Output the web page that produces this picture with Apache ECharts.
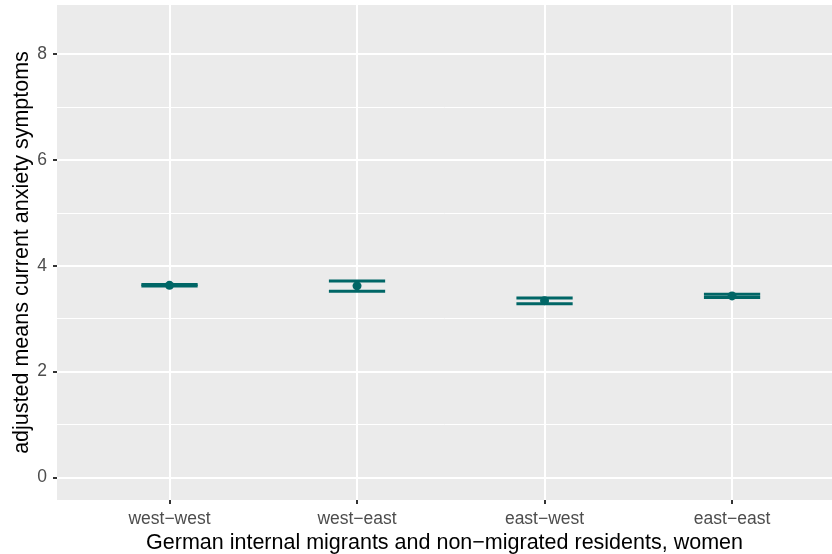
<!DOCTYPE html>
<html><head><meta charset="utf-8">
<script src="https://cdn.jsdelivr.net/npm/echarts@6/dist/echarts.min.js"></script>
<style>html,body{margin:0;padding:0;background:#fff}#c{width:832px;height:554px}</style>
</head><body><div id="c"></div>
<script>
const categories = ['west−west', 'west−east', 'east−west', 'east−east'];
const means = [3.63, 3.62, 3.34, 3.43];
const lower = [3.615, 3.52, 3.28, 3.40];
const upper = [3.645, 3.71, 3.39, 3.46];
const yTicks = [0, 2, 4, 6, 8];
const yMinor = [1, 3, 5, 7];

const teal = '#006666';
const chart = echarts.init(document.getElementById('c'), null, {renderer: 'canvas'});
const xPos = categories.map((c, i) => i + 1);
const errData = categories.map((c, i) => [i + 1, lower[i], upper[i]]);
const ptData = categories.map((c, i) => [i + 1, means[i]]);

chart.setOption({
  animation: false,
  backgroundColor: '#ffffff',
  grid: {left: 57, right: 0, top: 5, bottom: 54, show: true, backgroundColor: '#EBEBEB', borderWidth: 0,
    containLabel: false, outerBoundsMode: 'none'},
  xAxis: {
    type: 'value', min: 0.4, max: 4.533,
    name: 'German internal migrants and non−migrated residents, women',
    nameLocation: 'middle', nameGap: 32, nameMoveOverlap: false,
    nameTextStyle: {color: '#000', fontSize: 21.5, fontFamily: 'Liberation Sans'},
    axisLine: {show: false, onZero: false},
    axisTick: {show: true, length: 4, customValues: xPos, lineStyle: {color: '#333', width: 2}},
    axisLabel: {customValues: xPos, margin: 10, color: '#4D4D4D', fontSize: 17.5, fontFamily: 'Liberation Sans',
      formatter: v => categories[Math.round(v) - 1] || ''},
    splitLine: {show: true, lineStyle: {color: '#ffffff', width: 2}}
  },
  yAxis: [{
    type: 'value', min: -0.425, max: 8.925,
    name: 'adjusted means current anxiety symptoms',
    nameLocation: 'middle', nameGap: 24, nameRotate: 90, nameMoveOverlap: false,
    nameTextStyle: {color: '#000', fontSize: 21.5, fontFamily: 'Liberation Sans'},
    axisLine: {show: false, onZero: false},
    axisTick: {show: true, length: 4, customValues: yTicks, lineStyle: {color: '#333', width: 2}},
    axisLabel: {customValues: yTicks, margin: 10, color: '#4D4D4D', fontSize: 17.5, fontFamily: 'Liberation Sans'},
    splitLine: {show: true, lineStyle: {color: '#ffffff', width: 2}}
  }, {
    type: 'value', min: -0.425, max: 8.925, position: 'left',
    axisLine: {show: false, onZero: false},
    axisTick: {show: false, customValues: yMinor},
    axisLabel: {show: false, customValues: yMinor},
    splitLine: {show: true, lineStyle: {color: '#ffffff', width: 1}}
  }],
  series: [{
    type: 'custom',
    data: errData,
    z: 3,
    renderItem: function (params, api) {
      const x = api.value(0);
      const lo = api.coord([x - 0.15, api.value(1)]);
      const loR = api.coord([x + 0.15, api.value(1)]);
      const hi = api.coord([x - 0.15, api.value(2)]);
      const hiR = api.coord([x + 0.15, api.value(2)]);
      const style = {stroke: teal, lineWidth: 3};
      return {type: 'group', children: [
        {type: 'line', shape: {x1: lo[0], y1: lo[1], x2: loR[0], y2: loR[1]}, style: style},
        {type: 'line', shape: {x1: hi[0], y1: hi[1], x2: hiR[0], y2: hiR[1]}, style: style}
      ]};
    }
  }, {
    type: 'scatter',
    data: ptData,
    symbolSize: 9,
    z: 4,
    itemStyle: {color: teal, opacity: 1}
  }]
});
</script></body></html>
